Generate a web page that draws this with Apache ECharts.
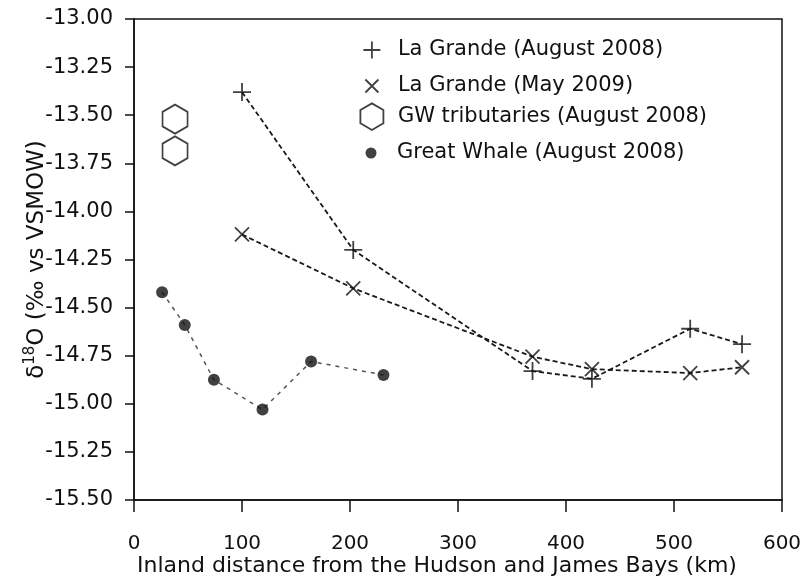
<!DOCTYPE html>
<html>
<head>
<meta charset="utf-8">
<script src="https://cdn.jsdelivr.net/npm/echarts@6/dist/echarts.min.js"></script>
<style>html,body{margin:0;padding:0;background:#fff}#c{width:804px;height:577px}</style>
</head>
<body>
<div id="c"></div>
<script>
// ---- data ----
var lgAug2008X = [100, 203, 369, 424, 515, 563];
var lgAug2008Y = [-13.38, -14.20, -14.83, -14.87, -14.61, -14.69];
var lgMay2009X = [100, 203, 369, 424, 515, 563];
var lgMay2009Y = [-14.12, -14.40, -14.755, -14.82, -14.84, -14.81];
var gwTribX = [38, 38];
var gwTribY = [-13.52, -13.685];
var greatWhaleX = [26, 47, 74, 119, 164, 231];
var greatWhaleY = [-14.42, -14.59, -14.875, -15.03, -14.78, -14.85];
var seriesNames = ['La Grande (August 2008)', 'La Grande (May 2009)', 'GW tributaries (August 2008)', 'Great Whale (August 2008)'];
var xTitle = 'Inland distance from the Hudson and James Bays (km)';

function pairs(xs, ys) { return xs.map(function (x, i) { return [x, ys[i]]; }); }

var FONT = 'DejaVu Sans';
var INK = '#111';
var PLUS = 'path://M0,-1L0,1M-1,0L1,0';
var CROSS = 'path://M-1,-1L1,1M-1,1L1,-1';
var HEX = 'path://M0,-1L0.866,-0.5L0.866,0.5L0,1L-0.866,0.5L-0.866,-0.5Z';
var hollow = { color: 'rgba(255,255,255,0)', borderColor: INK, borderWidth: 1.8 };

var chart = echarts.init(document.getElementById('c'), null, { renderer: 'canvas' });

function legendFor(name, icon, w, h, cy, style) {
  var cx = 371;
  var textStart = 397;
  return {
    data: [{ name: name, icon: icon, itemStyle: style }],
    orient: 'vertical',
    left: cx - w / 2,
    top: cy - h / 2,
    itemWidth: w,
    itemHeight: h,
    padding: 0,
    selectedMode: false,
    textStyle: { fontFamily: FONT, fontSize: 21, color: INK, padding: [0, 0, 0, textStart - (cx + w / 2 + 5)] }
  };
}

chart.setOption({
  animation: false,
  backgroundColor: '#fff',
  grid: { left: 134, right: 22, top: 19, bottom: 77, outerBoundsMode: 'none', containLabel: false,
    show: true, borderColor: INK, borderWidth: 1.5, backgroundColor: 'transparent' },
  legend: [
    legendFor(seriesNames[0], PLUS, 17, 17, 48, hollow),
    legendFor(seriesNames[1], CROSS, 13, 13, 82, hollow),
    legendFor(seriesNames[2], HEX, 23, 27, 116, hollow),
    legendFor(seriesNames[3], 'circle', 11, 11, 148, { color: INK, borderWidth: 0 })
  ],
  xAxis: {
    type: 'value', min: 0, max: 600, interval: 100,
    name: xTitle, nameLocation: 'middle', nameGap: 55, nameMoveOverlap: false,
    nameTextStyle: { fontFamily: FONT, fontSize: 22, color: INK, padding: [0, 42, 0, 0] },
    axisLine: { show: true, lineStyle: { color: INK, width: 1.5 } },
    axisTick: { show: true, inside: false, length: 12, lineStyle: { color: INK, width: 1.5 } },
    axisLabel: { fontFamily: FONT, fontSize: 20, color: INK, margin: 34 },
    splitLine: { show: false }
  },
  yAxis: {
    type: 'value', min: -15.5, max: -13, interval: 0.25,
    name: '{a|δ}{b|18}{a|O (‰ vs VSMOW)}', nameLocation: 'middle', nameGap: 83, nameMoveOverlap: false,
    nameTextStyle: {
      fontFamily: FONT, fontSize: 23, color: INK,
      rich: {
        a: { fontFamily: FONT, fontSize: 23, color: INK },
        b: { fontFamily: FONT, fontSize: 15, color: INK, verticalAlign: 'bottom', padding: [0, 0, 13, 0] }
      }
    },
    axisLine: { show: true, lineStyle: { color: INK, width: 1.5 } },
    axisTick: { show: true, inside: false, length: 9, lineStyle: { color: INK, width: 1.5 } },
    axisLabel: { fontFamily: FONT, fontSize: 21, color: INK, margin: 21, formatter: function (v) { return v.toFixed(2); } },
    splitLine: { show: false }
  },
  series: [
    { name: 'lgAugLine', type: 'line', data: pairs(lgAug2008X, lgAug2008Y), showSymbol: false, silent: true,
      lineStyle: { color: '#1a1a1a', width: 1.8, type: [5, 3] }, z: 1 },
    { name: 'lgMayLine', type: 'line', data: pairs(lgMay2009X, lgMay2009Y), showSymbol: false, silent: true,
      lineStyle: { color: '#1a1a1a', width: 1.8, type: [5, 3] }, z: 1 },
    { name: 'gwLine', type: 'line', data: pairs(greatWhaleX, greatWhaleY), showSymbol: false, silent: true,
      lineStyle: { color: '#555', width: 1.5, type: [4, 5] }, z: 1 },
    { name: seriesNames[0], type: 'scatter', data: pairs(lgAug2008X, lgAug2008Y), symbol: PLUS, symbolSize: 18,
      itemStyle: hollow, z: 3 },
    { name: seriesNames[1], type: 'scatter', data: pairs(lgMay2009X, lgMay2009Y), symbol: CROSS, symbolSize: 14,
      itemStyle: hollow, z: 3 },
    { name: seriesNames[2], type: 'scatter', data: pairs(gwTribX, gwTribY), symbol: HEX, symbolSize: [25, 29],
      itemStyle: hollow, z: 3 },
    { name: seriesNames[3], type: 'scatter', data: pairs(greatWhaleX, greatWhaleY), symbol: 'circle', symbolSize: 12,
      itemStyle: { color: '#111' }, z: 3 }
  ]
});
</script>
</body>
</html>
